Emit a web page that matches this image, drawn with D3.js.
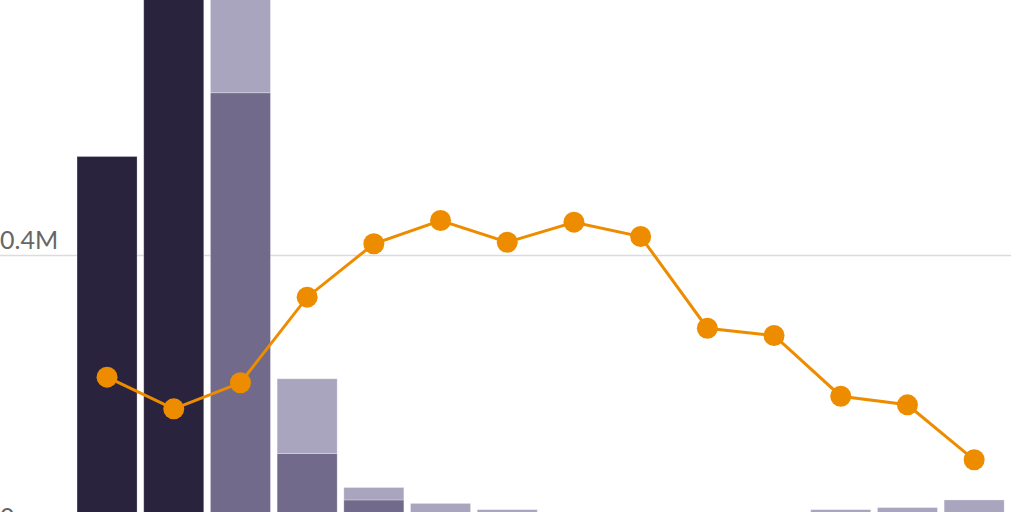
<!DOCTYPE html>
<html><head><meta charset="utf-8">
<script src="https://cdn.jsdelivr.net/npm/d3@7"></script>
<style>html,body{margin:0;padding:0;background:#fff;overflow:hidden}</style>
</head><body>
<svg id="c" width="1024" height="512"></svg>
<script>
const categories = ["1","2","3","4","5","6","7","8","9","10","11","12","13","14"];
const darkValues   = [543000, 860000, 0, 0, 0, 0, 0, 0, 0, 0, 0, 0, 0, 0];
const mediumValues = [0, 0, 635000, 114000, 47000, 0, 0, 0, 0, 0, 0, 0, 0, 0];
const lightValues  = [0, 0, 220000, 108000, 18000, 42000, 33000, 15000, 12000, 12000, 15000, 33000, 36000, 47000];
const lineValues   = [224300, 178600, 216200, 339800, 416900, 450500, 419200, 448100, 427400, 295000, 284500, 196800, 184400, 105000];
const yTicks = [0, 400000];
const tickLabels = ["0", "0.4M"];
const seriesKeys = ["dark","medium","light"];
const colors = {dark:"#29233d", medium:"#716a8b", light:"#a9a5bf"};

const svg = d3.select("#c");
const x = d3.scaleBand().domain(categories).range([73.7, 1007.5]).paddingInner(0.1).paddingOuter(0.05);
const y = d3.scaleLinear().domain([0, 400000]).range([532.5, 255.5]);

// gridlines
svg.append("g").selectAll("line").data(yTicks).join("line")
  .attr("x1", 0).attr("x2", 1011)
  .attr("y1", d => y(d)).attr("y2", d => y(d))
  .attr("stroke", "#dcdcdc").attr("stroke-width", 1.5);

// stacked bars
const table = categories.map((c,i)=>({cat:c, dark:darkValues[i], medium:mediumValues[i], light:lightValues[i]}));
const stack = d3.stack().keys(seriesKeys)(table);
svg.append("g").selectAll("g").data(stack).join("g")
  .attr("fill", d => colors[d.key])
  .selectAll("rect").data(d => d).join("rect")
  .attr("x", d => x(d.data.cat))
  .attr("width", x.bandwidth())
  .attr("y", d => y(d[1]))
  .attr("height", d => Math.max(0, y(d[0]) - y(d[1])))
  .attr("stroke", "rgba(255,255,255,0.35)").attr("stroke-width", 0.8);

// tick labels
svg.append("g").selectAll("text").data(yTicks).join("text")
  .attr("x", 0).attr("y", d => y(d) - 7)
  .attr("font-family", "Lato, 'Open Sans', sans-serif")
  .attr("font-size", 25).attr("fill", "#666")
  .text((d,i) => tickLabels[i]);

// line
const cx = c => x(c) + x.bandwidth()/2;
svg.append("path").datum(lineValues)
  .attr("fill","none").attr("stroke","#ee8c00").attr("stroke-width",3)
  .attr("d", d3.line().x((d,i)=>cx(categories[i])).y(d=>y(d)));
svg.append("g").selectAll("circle").data(lineValues).join("circle")
  .attr("cx",(d,i)=>cx(categories[i])).attr("cy",d=>y(d)).attr("r",10.5)
  .attr("fill","#ee8c00");
</script>
</body></html>
